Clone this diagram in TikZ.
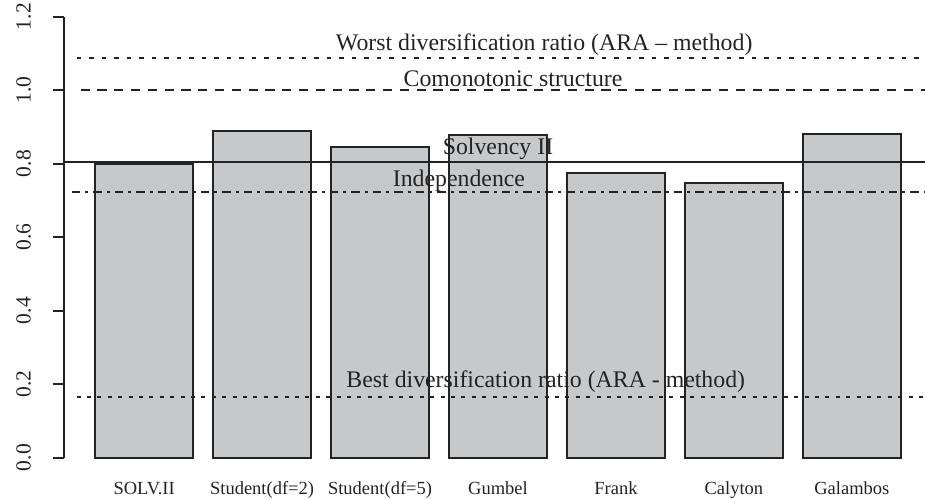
\documentclass[tikz,border=0pt]{standalone}
\usepackage{fontspec}
\setmainfont{Liberation Serif}
\usepackage{tikz}
\definecolor{barfill}{RGB}{199,200,202}
\definecolor{ink}{RGB}{35,35,35}
\tikzset{
  axis/.style={line width=1.8pt,draw=ink},
  tickmark/.style={line width=1.8pt,draw=ink},
  barbox/.style={fill=barfill,draw=ink,line width=2pt},
  solidline/.style={line width=1.6pt,draw=ink},
  dashline/.style={line width=1.8pt,draw=ink,dash pattern=on 9.3pt off 7.5pt},
  dotline/.style={line width=1.8pt,draw=ink,dash pattern=on 4.7pt off 7.8pt},
  finedotline/.style={line width=1.8pt,draw=ink,dash pattern=on 4pt off 6.4pt},
  dashdotline/.style={line width=1.8pt,draw=ink,dash pattern=on 8.5pt off 5pt on 3pt off 5pt},
  ticklabel/.style={rotate=90,font=\fontsize{21.5}{24}\selectfont,text=ink},
  barlabel/.style={anchor=base,font=\fontsize{18.5}{22}\selectfont,text=ink},
  linelabel/.style={anchor=base,font=\fontsize{23.8}{28}\selectfont,text=ink}
}

\begin{document}
\begin{tikzpicture}[x=98.3pt,y=367.5pt]
    \useasboundingbox (-0.766,-0.1124) rectangle (8.644,1.2454);
    \draw[barbox] (0.2,0) rectangle (1.2,0.800);
    \draw[barbox] (1.4,0) rectangle (2.4,0.889);
    \draw[barbox] (2.6,0) rectangle (3.6,0.846);
    \draw[barbox] (3.8,0) rectangle (4.8,0.879);
    \draw[barbox] (5.0,0) rectangle (6.0,0.776);
    \draw[barbox] (6.2,0) rectangle (7.2,0.748);
    \draw[barbox] (7.4,0) rectangle (8.4,0.880);
    \draw[axis] (-0.118,0) -- (-0.118,1.2);
    \draw[tickmark] (-0.23,0) -- (-0.118,0); \draw[tickmark] (-0.23,0.2) -- (-0.118,0.2);
    \draw[tickmark] (-0.23,0.4) -- (-0.118,0.4); \draw[tickmark] (-0.23,0.6) -- (-0.118,0.6);
    \draw[tickmark] (-0.23,0.8) -- (-0.118,0.8); \draw[tickmark] (-0.23,1.0) -- (-0.118,1.0);
    \draw[tickmark] (-0.23,1.2) -- (-0.118,1.2);
    \node[ticklabel] (y00) at (-0.525,0) {0.0}; \node[ticklabel] (y02) at (-0.525,0.2) {0.2};
    \node[ticklabel] (y04) at (-0.525,0.4) {0.4}; \node[ticklabel] (y06) at (-0.525,0.6) {0.6};
    \node[ticklabel] (y08) at (-0.525,0.8) {0.8}; \node[ticklabel] (y10) at (-0.525,1.0) {1.0};
    \node[ticklabel] (y12) at (-0.525,1.2) {1.2};
    \draw[dotline] (0.014,1.088) -- (8.644,1.088);
    \draw[dashline] (0.053,1.0) -- (8.644,1.0);
    \draw[solidline] (-0.118,0.804) -- (8.644,0.804);
    \draw[dashdotline] (-0.034,0.723) -- (8.644,0.723);
    \draw[finedotline] (0.014,0.166) -- (8.644,0.166);
    \node[linelabel] (worst) at (4.77,1.1075) {Worst diversification ratio (ARA -- method)};
    \node[linelabel] (comon) at (4.453,1.0095) {Comonotonic structure};
    \node[linelabel] (solv) at (4.30,0.8237) {Solvency II};
    \node[linelabel] (indep) at (3.903,0.7374) {Independence};
    \node[linelabel] (best) at (4.786,0.1916) {Best diversification ratio (ARA - method)};
    \node[barlabel] (nsolv) at (0.7,-0.1015) {SOLV.II};
    \node[barlabel] (nstud2) at (1.9,-0.1015) {Student(df=2)};
    \node[barlabel] (nstud5) at (3.1,-0.1015) {Student(df=5)};
    \node[barlabel] (ngumb) at (4.3,-0.1015) {Gumbel};
    \node[barlabel] (nfrank) at (5.5,-0.1015) {Frank};
    \node[barlabel] (ncaly) at (6.7,-0.1015) {Calyton};
    \node[barlabel] (ngala) at (7.9,-0.1015) {Galambos};
  \end{tikzpicture}
\end{document}
